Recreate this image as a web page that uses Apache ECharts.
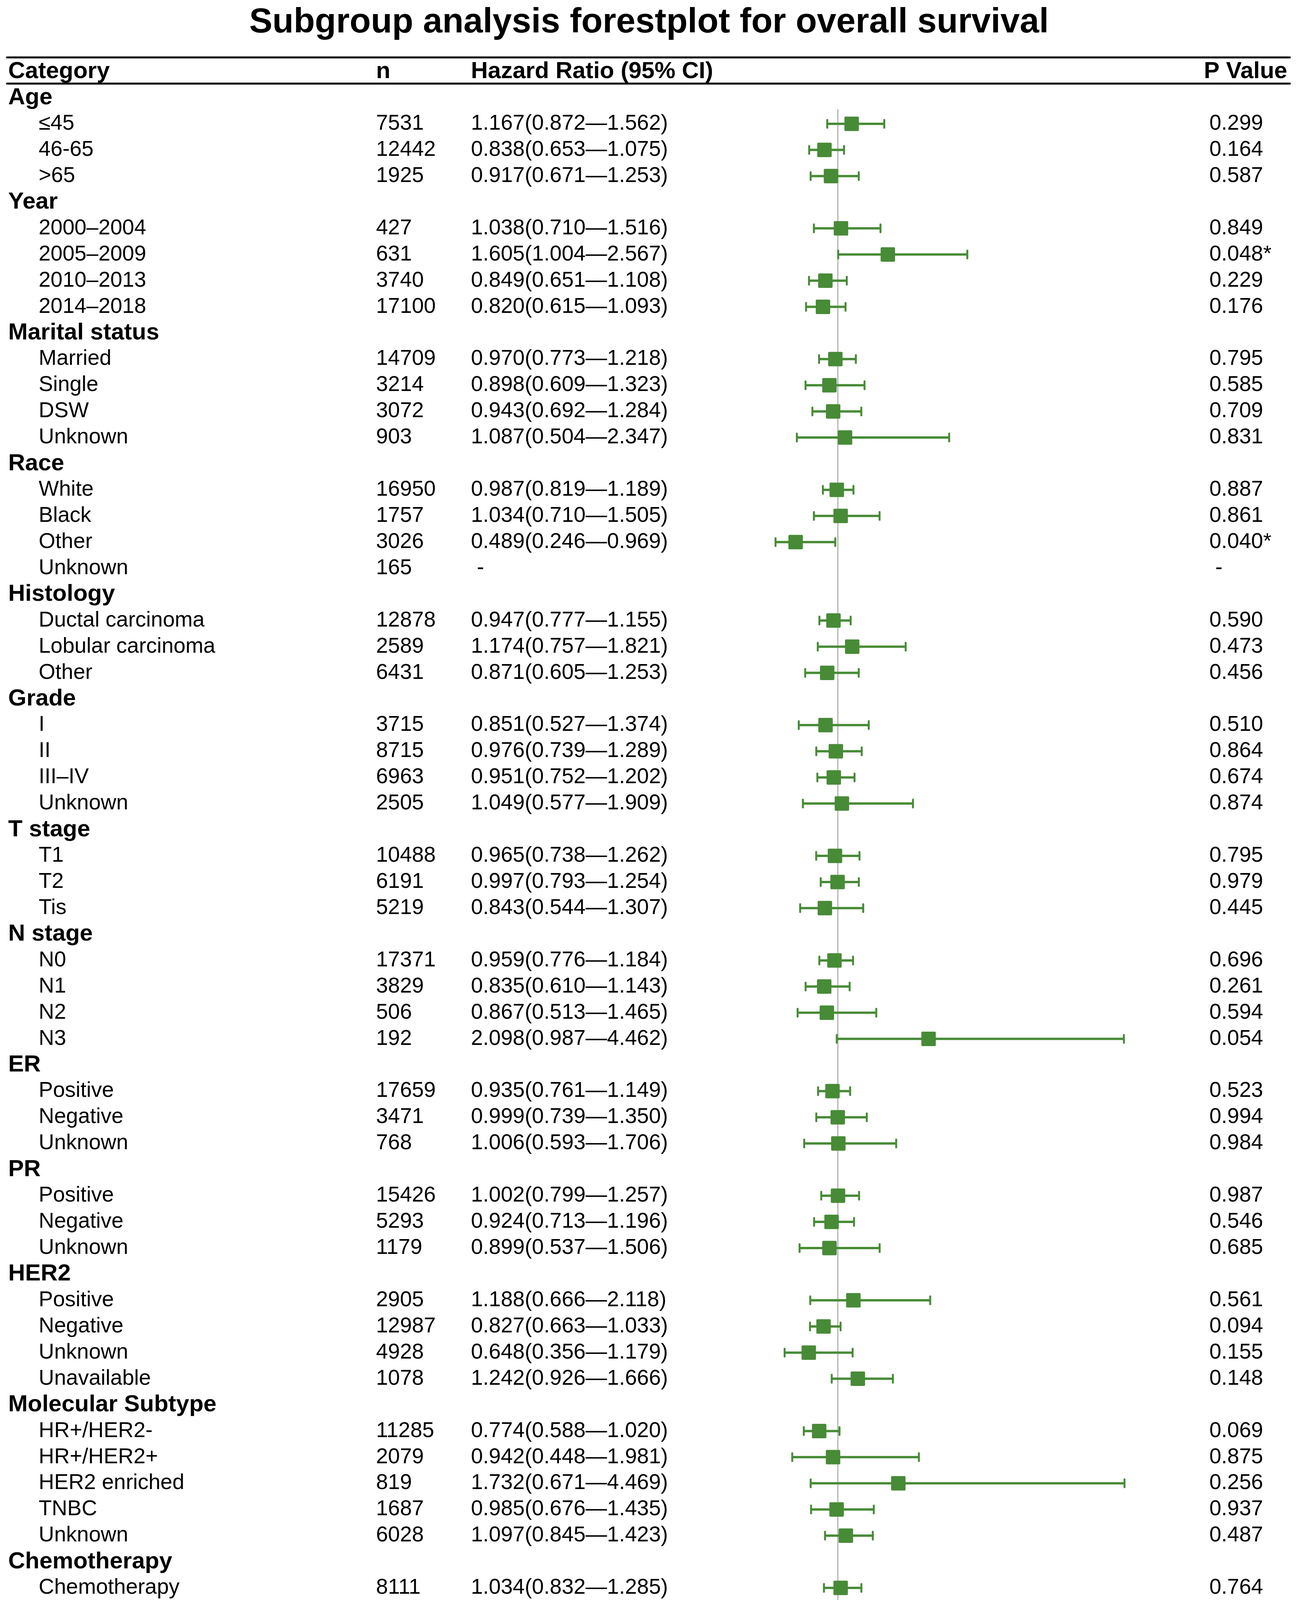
<!DOCTYPE html>
<html>
<head>
<meta charset="utf-8">
<title>Subgroup analysis forestplot</title>
<script src="https://cdn.jsdelivr.net/npm/echarts@6/dist/echarts.min.js"></script>
<style>
  html, body { margin: 0; padding: 0; background: #fff; }
  #chart { width: 3324px; height: 4366px; }
</style>
</head>
<body>
<div id="chart"></div>
<script>
// rows of the table, top to bottom (group headers have n = null)
var rowLabels = [
  'Age', '≤45', '46-65', '>65',
  'Year', '2000–2004', '2005–2009', '2010–2013', '2014–2018',
  'Marital status', 'Married', 'Single', 'DSW', 'Unknown',
  'Race', 'White', 'Black', 'Other', 'Unknown',
  'Histology', 'Ductal carcinoma', 'Lobular carcinoma', 'Other',
  'Grade', 'I', 'II', 'III–IV', 'Unknown',
  'T stage', 'T1', 'T2', 'Tis',
  'N stage', 'N0', 'N1', 'N2', 'N3',
  'ER', 'Positive', 'Negative', 'Unknown',
  'PR', 'Positive', 'Negative', 'Unknown',
  'HER2', 'Positive', 'Negative', 'Unknown', 'Unavailable',
  'Molecular Subtype', 'HR+/HER2-', 'HR+/HER2+', 'HER2 enriched', 'TNBC', 'Unknown',
  'Chemotherapy', 'Chemotherapy', 'Chemotherapy-naïve/Unknown'
];
var nValues = [
  null, 7531, 12442, 1925,
  null, 427, 631, 3740, 17100,
  null, 14709, 3214, 3072, 903,
  null, 16950, 1757, 3026, 165,
  null, 12878, 2589, 6431,
  null, 3715, 8715, 6963, 2505,
  null, 10488, 6191, 5219,
  null, 17371, 3829, 506, 192,
  null, 17659, 3471, 768,
  null, 15426, 5293, 1179,
  null, 2905, 12987, 4928, 1078,
  null, 11285, 2079, 819, 1687, 6028,
  null, 8111, 13787
];
var hrValues = [
  null, 1.167, 0.838, 0.917,
  null, 1.038, 1.605, 0.849, 0.820,
  null, 0.970, 0.898, 0.943, 1.087,
  null, 0.987, 1.034, 0.489, null,
  null, 0.947, 1.174, 0.871,
  null, 0.851, 0.976, 0.951, 1.049,
  null, 0.965, 0.997, 0.843,
  null, 0.959, 0.835, 0.867, 2.098,
  null, 0.935, 0.999, 1.006,
  null, 1.002, 0.924, 0.899,
  null, 1.188, 0.827, 0.648, 1.242,
  null, 0.774, 0.942, 1.732, 0.985, 1.097,
  null, 1.034, 0.878
];
var lowerCI = [
  null, 0.872, 0.653, 0.671,
  null, 0.710, 1.004, 0.651, 0.615,
  null, 0.773, 0.609, 0.692, 0.504,
  null, 0.819, 0.710, 0.246, null,
  null, 0.777, 0.757, 0.605,
  null, 0.527, 0.739, 0.752, 0.577,
  null, 0.738, 0.793, 0.544,
  null, 0.776, 0.610, 0.513, 0.987,
  null, 0.761, 0.739, 0.593,
  null, 0.799, 0.713, 0.537,
  null, 0.666, 0.663, 0.356, 0.926,
  null, 0.588, 0.448, 0.671, 0.676, 0.845,
  null, 0.832, 0.689
];
var upperCI = [
  null, 1.562, 1.075, 1.253,
  null, 1.516, 2.567, 1.108, 1.093,
  null, 1.218, 1.323, 1.284, 2.347,
  null, 1.189, 1.505, 0.969, null,
  null, 1.155, 1.821, 1.253,
  null, 1.374, 1.289, 1.202, 1.909,
  null, 1.262, 1.254, 1.307,
  null, 1.184, 1.143, 1.465, 4.462,
  null, 1.149, 1.350, 1.706,
  null, 1.257, 1.196, 1.506,
  null, 2.118, 1.033, 1.179, 1.666,
  null, 1.020, 1.981, 4.469, 1.435, 1.423,
  null, 1.285, 1.119
];
var pValues = [
  '', '0.299', '0.164', '0.587',
  '', '0.849', '0.048*', '0.229', '0.176',
  '', '0.795', '0.585', '0.709', '0.831',
  '', '0.887', '0.861', '0.040*', ' -',
  '', '0.590', '0.473', '0.456',
  '', '0.510', '0.864', '0.674', '0.874',
  '', '0.795', '0.979', '0.445',
  '', '0.696', '0.261', '0.594', '0.054',
  '', '0.523', '0.994', '0.984',
  '', '0.987', '0.546', '0.685',
  '', '0.561', '0.094', '0.155', '0.148',
  '', '0.069', '0.875', '0.256', '0.937', '0.487',
  '', '0.764', '0.293'
];
var xTicks = [0, 1, 2, 3, 4, 5];

var FONT = '"Liberation Sans", Arial, Helvetica, sans-serif';
var GREEN = '#478B36';
var colCat = 21, colSub = 99, colN = 963, colHR = 1206, colP = 3097;

function hrText(i) {
  if (hrValues[i] == null) return ' -';
  return hrValues[i].toFixed(3) + '(' + lowerCI[i].toFixed(3) + '—' + upperCI[i].toFixed(3) + ')';
}

var tableData = [];
var barData = [];
for (var i = 0; i < rowLabels.length; i++) {
  tableData.push([1, i]);
  if (hrValues[i] != null) {
    barData.push([hrValues[i], i, lowerCI[i], upperCI[i]]);
  }
}

function txt(x, y, s, bold, size, align) {
  return {
    type: 'text', x: x, y: y, silent: true,
    style: {
      text: s, fill: '#000', fontFamily: FONT,
      fontSize: size || 55, fontWeight: bold ? 'bold' : 'normal',
      align: align || 'left', verticalAlign: 'middle'
    }
  };
}

// "<------ NSM -- -- BCS ------>" footer, dashes drawn a bit smaller
var sixDash = '—\u2002—\u2002—\u2002—\u2002—\u2002—';
var arrowText = '<{d|' + sixDash + '}\u2002NSM\u2002{d|—\u2002—\u2002\u2002—\u2002—}\u2002BCS\u2002{d|' + sixDash + '}>';
var arrow = txt(2266, 4327, arrowText, false, 56, 'center');
arrow.style.rich = { d: { fontSize: 40, fontFamily: FONT, fill: '#000' } };

var myChart = echarts.init(document.getElementById('chart'));
var option = {
  backgroundColor: '#fff',
  animation: false,
  grid: { left: 1934, right: 332, top: 216.5, bottom: 200.6, containLabel: false },
  xAxis: {
    type: 'value', min: 0, max: 5, interval: 1,
    axisLine: { show: true, onZero: false, lineStyle: { color: '#000', width: 6 } },
    axisTick: { show: true, length: 33, lineStyle: { color: '#000', width: 3 } },
    axisLabel: {
      color: '#000', fontSize: 55, fontFamily: FONT, margin: 72,
      formatter: function (v) { return xTicks.indexOf(v) >= 0 ? String(v) : ''; }
    },
    splitLine: { show: false }
  },
  yAxis: { type: 'value', min: -0.5, max: 58.5, inverse: true, show: false },
  graphic: [
    txt(1662, 58, 'Subgroup analysis forestplot for overall survival', true, 89, 'center'),
    { type: 'line', shape: { x1: 18, y1: 147, x2: 3303, y2: 147 }, style: { stroke: '#000', lineWidth: 5, lineCap: 'round' } },
    { type: 'line', shape: { x1: 18, y1: 214, x2: 3303, y2: 214 }, style: { stroke: '#000', lineWidth: 5, lineCap: 'round' } },
    txt(colCat, 183, 'Category', true, 60),
    txt(colN, 183, 'n', true, 60),
    txt(colHR, 183, 'Hazard Ratio (95% CI)', true, 60),
    txt(3083, 183, 'P Value', true, 60),
    arrow
  ],
  series: [
    {
      // reference line at HR = 1
      type: 'custom', clip: false, z: 1,
      data: [[1, 0.45, 58.5]],
      renderItem: function (params, api) {
        var a = api.coord([api.value(0), api.value(1)]);
        var b = api.coord([api.value(0), api.value(2)]);
        return { type: 'line', shape: { x1: a[0], y1: a[1], x2: b[0], y2: b[1] },
          style: { stroke: '#b3b3b3', lineWidth: 3 } };
      }
    },
    {
      // table text
      type: 'custom', clip: false, z: 2,
      data: tableData,
      renderItem: function (params, api) {
        var i = api.value(1);
        var y = api.coord([1, i])[1];
        var kids = [];
        if (nValues[i] == null) {
          kids.push(txt(colCat, y, rowLabels[i], true, 60));
        } else {
          kids.push(txt(colSub, y, rowLabels[i]));
          kids.push(txt(colN, y, String(nValues[i])));
          kids.push(txt(colHR, y, hrText(i)));
          kids.push(txt(colP, y, pValues[i]));
        }
        return { type: 'group', children: kids };
      }
    },
    {
      // hazard ratio with 95% CI
      type: 'custom', clip: false, z: 3,
      dimensions: ['hr', 'row', 'lower', 'upper'],
      encode: { x: [0, 2, 3], y: 1 },
      data: barData,
      renderItem: function (params, api) {
        var c = api.coord([api.value(0), api.value(1)]);
        var lo = api.coord([api.value(2), api.value(1)]);
        var up = api.coord([api.value(3), api.value(1)]);
        var s = 37, capH = 10;
        var st = { stroke: GREEN, lineWidth: 6 };
        var cap = { stroke: GREEN, lineWidth: 5, lineCap: 'round' };
        return {
          type: 'group',
          children: [
            { type: 'line', shape: { x1: lo[0], y1: c[1], x2: up[0], y2: c[1] }, style: st },
            { type: 'line', shape: { x1: lo[0], y1: c[1] - capH, x2: lo[0], y2: c[1] + capH }, style: cap },
            { type: 'line', shape: { x1: up[0], y1: c[1] - capH, x2: up[0], y2: c[1] + capH }, style: cap },
            { type: 'rect', shape: { x: c[0] - s / 2, y: c[1] - s / 2, width: s, height: s, r: 3 },
              style: { fill: GREEN } }
          ]
        };
      }
    }
  ]
};
myChart.setOption(option);
</script>
</body>
</html>
